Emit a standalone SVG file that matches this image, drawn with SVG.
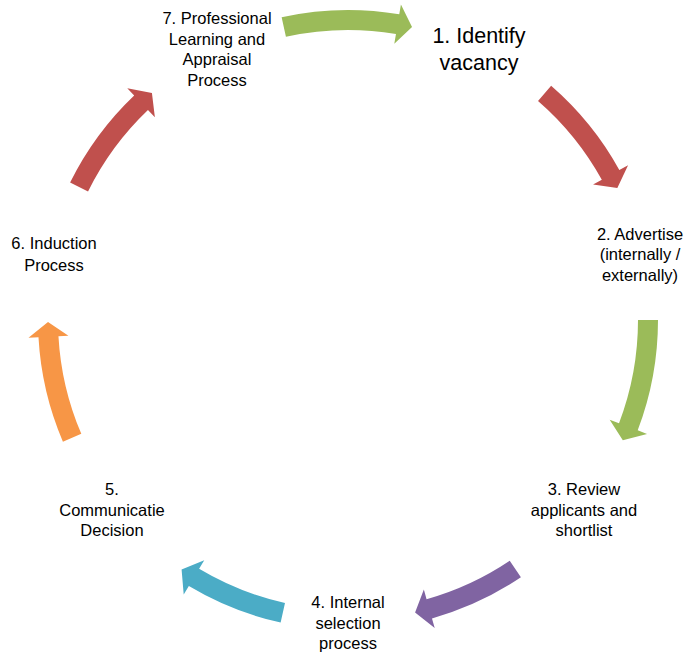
<svg xmlns="http://www.w3.org/2000/svg" width="689" height="652" viewBox="0 0 689 652">
  <style>
    .lbl { font-family: "Liberation Sans", Arial, sans-serif; font-size: 16.5px; fill: #000; text-anchor: middle; }
    .big { font-size: 21.5px; }
    .green { fill: #9BBB59; }
    .red { fill: #C0504D; }
    .purple { fill: #8064A2; }
    .teal { fill: #4BACC6; }
    .orange { fill: #F79646; }
  </style>
  <rect width="689" height="652" fill="#fff"/>

  <!-- curved block arrows on a circle centred at (348,320), r=300 -->
  <g id="connectors">
    <path id="arrow-7-1" class="green" d="M281.64,17.19 A310,310 0 0 1 399.27,14.27 L400.93,4.41 L412.02,26.91 L394.31,43.86 L395.97,33.99 A290,290 0 0 0 285.93,36.72 Z"/>
    <path id="arrow-1-2" class="red" d="M551.13,85.83 A310,310 0 0 1 619.32,170.04 L628.07,165.20 L617.34,187.88 L593.06,184.55 L601.81,179.72 A290,290 0 0 0 538.03,100.93 Z"/>
    <path id="arrow-2-3" class="green" d="M658,320 A310,310 0 0 1 637.70,430.34 L647.05,433.90 L622.81,440.35 L609.67,419.66 L619.01,423.22 A290,290 0 0 0 638,320 Z"/>
    <path id="arrow-3-4" class="purple" d="M520.90,577.31 A310,310 0 0 1 431.99,618.41 L434.70,628.04 L415.08,612.40 L423.86,589.53 L426.57,599.16 A290,290 0 0 0 509.74,560.71 Z"/>
    <path id="arrow-4-5" class="teal" d="M280.64,622.59 A310,310 0 0 1 188.85,586.03 L183.71,594.61 L181.59,569.62 L204.25,560.28 L199.12,568.87 A290,290 0 0 0 284.99,603.07 Z"/>
    <path id="arrow-5-6" class="orange" d="M62.90,441.72 A310,310 0 0 1 38.48,337.30 L28.50,337.86 L48.01,322.09 L68.44,335.63 L58.45,336.19 A290,290 0 0 0 81.29,433.87 Z"/>
    <path id="arrow-6-7" class="red" d="M70.11,182.60 A310,310 0 0 1 134.17,95.54 L127.28,88.30 L151.93,92.93 L154.87,117.26 L147.97,110.02 A290,290 0 0 0 88.04,191.46 Z"/>
  </g>

  <g id="node1">
    <text class="lbl big" x="479" y="43">1. Identify</text>
    <text class="lbl big" x="479" y="70">vacancy</text>
  </g>
  <g id="node2">
    <text class="lbl" x="640" y="239.5">2. Advertise</text>
    <text class="lbl" x="640" y="260">(internally /</text>
    <text class="lbl" x="640" y="280.5">externally)</text>
  </g>
  <g id="node3">
    <text class="lbl" x="584" y="495">3. Review</text>
    <text class="lbl" x="584" y="515.5">applicants and</text>
    <text class="lbl" x="584" y="536">shortlist</text>
  </g>
  <g id="node4">
    <text class="lbl" x="348" y="608">4. Internal</text>
    <text class="lbl" x="348" y="628.5">selection</text>
    <text class="lbl" x="348" y="649">process</text>
  </g>
  <g id="node5">
    <text class="lbl" x="112" y="495">5.</text>
    <text class="lbl" x="112" y="515.5">Communicatie</text>
    <text class="lbl" x="112" y="536">Decision</text>
  </g>
  <g id="node6">
    <text class="lbl" x="54" y="249">6. Induction</text>
    <text class="lbl" x="54" y="270.5">Process</text>
  </g>
  <g id="node7">
    <text class="lbl" x="217" y="24">7. Professional</text>
    <text class="lbl" x="217" y="44.5">Learning and</text>
    <text class="lbl" x="217" y="65">Appraisal</text>
    <text class="lbl" x="217" y="85.5">Process</text>
  </g>
</svg>
